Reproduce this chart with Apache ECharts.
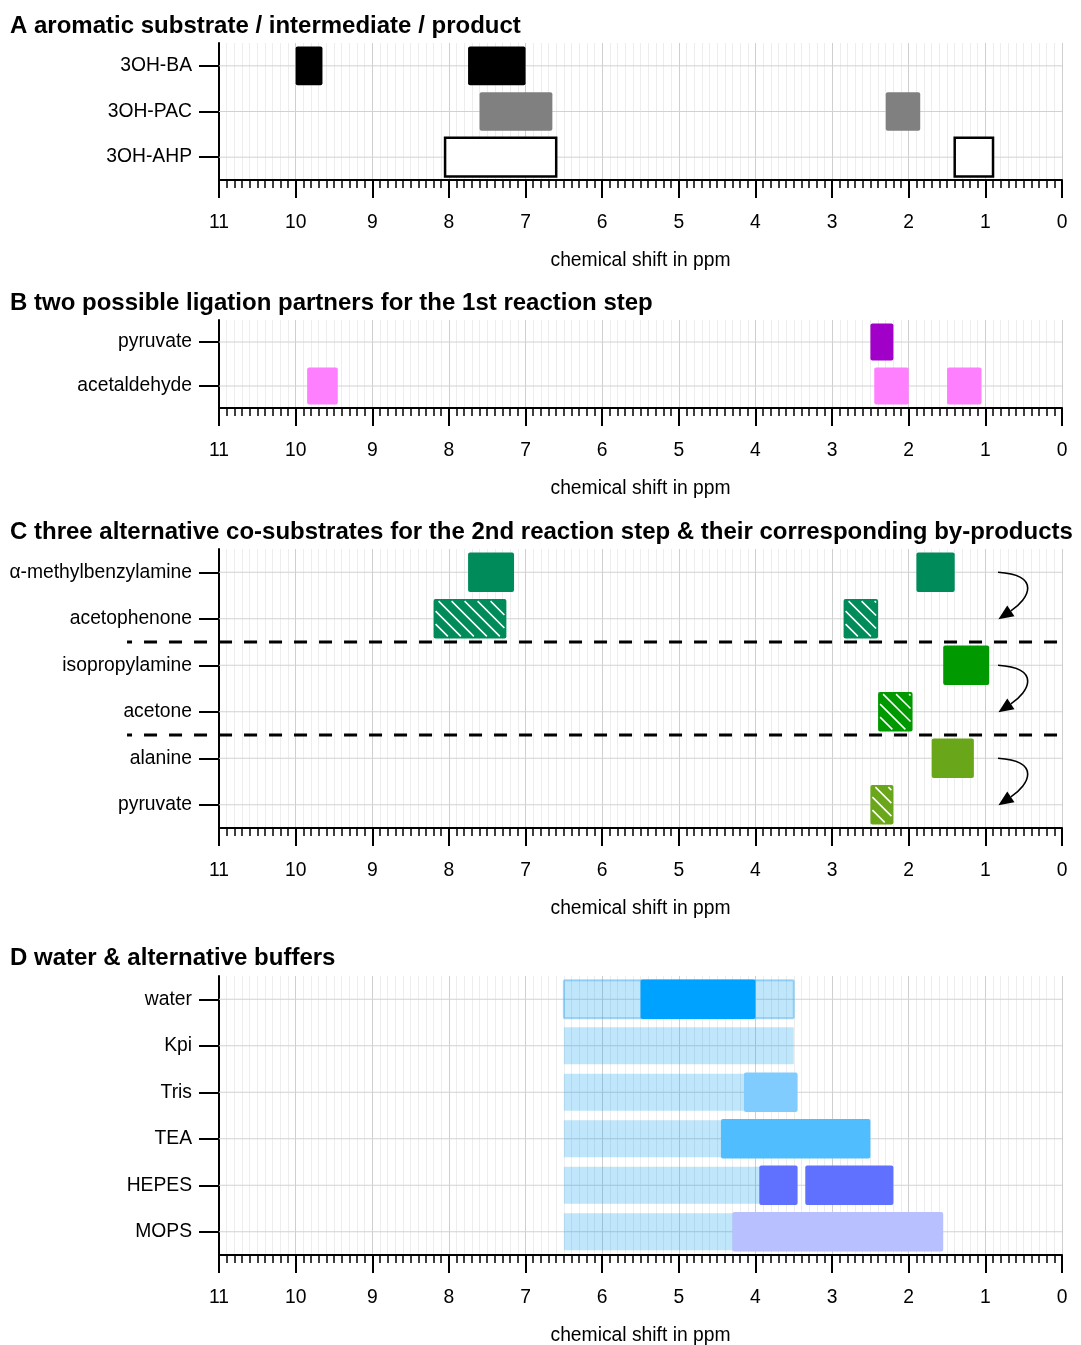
<!DOCTYPE html>
<html>
<head>
<meta charset="utf-8">
<script src="https://cdn.jsdelivr.net/npm/echarts@6/dist/echarts.min.js"></script>
<style>
  html, body { margin: 0; padding: 0; background: #fff; }
  #chart { width: 1081px; height: 1345px; }
</style>
</head>
<body>
<div id="chart"></div>
<script>
// ---- chemical shift range (ppm), drawn from high to low ----
const ppmMin = 0;
const ppmMax = 11;
const axisName = 'chemical shift in ppm';

// ---- A: aromatic substrate / intermediate / product ----
const titleA = 'A aromatic substrate / intermediate / product';
const rowsA = ['3OH-BA', '3OH-PAC', '3OH-AHP'];
const signalsA = [
  ['3OH-BA', 10.0, 9.65], ['3OH-BA', 7.75, 7.0],
  ['3OH-PAC', 7.6, 6.65], ['3OH-PAC', 2.3, 1.85],
  ['3OH-AHP', 8.05, 6.6], ['3OH-AHP', 1.4, 0.9]
];

// ---- B: ligation partners, 1st reaction step ----
const titleB = 'B two possible ligation partners for the 1st reaction step';
const rowsB = ['pyruvate', 'acetaldehyde'];
const signalsB = [
  ['pyruvate', 2.5, 2.2],
  ['acetaldehyde', 9.85, 9.45], ['acetaldehyde', 2.45, 2.0], ['acetaldehyde', 1.5, 1.05]
];

// ---- C: co-substrates, 2nd reaction step, and their by-products ----
const titleC = 'C three alternative co-substrates for the 2nd reaction step & their corresponding by-products';
const rowsC = ['α-methylbenzylamine', 'acetophenone', 'isopropylamine', 'acetone', 'alanine', 'pyruvate'];
const signalsC = [
  ['α-methylbenzylamine', 7.75, 7.15], ['α-methylbenzylamine', 1.9, 1.4],
  ['acetophenone', 8.2, 7.25], ['acetophenone', 2.85, 2.4],
  ['isopropylamine', 1.55, 0.95],
  ['acetone', 2.4, 1.95],
  ['alanine', 1.7, 1.15],
  ['pyruvate', 2.5, 2.2]
];
// co-substrate -> by-product
const pairsC = [
  ['α-methylbenzylamine', 'acetophenone'],
  ['isopropylamine', 'acetone'],
  ['alanine', 'pyruvate']
];

// ---- D: water & buffers ----
const titleD = 'D water & alternative buffers';
const rowsD = ['water', 'Kpi', 'Tris', 'TEA', 'HEPES', 'MOPS'];
const waterRegion = [6.5, 3.5];
const signalsD = [
  ['water', 5.5, 4.0],
  ['Tris', 4.15, 3.45],
  ['TEA', 4.45, 2.5],
  ['HEPES', 3.95, 3.45], ['HEPES', 3.35, 2.2],
  ['MOPS', 4.3, 1.55]
];

// ---- styles ----
const stylesA = {
  '3OH-BA': { fill: '#000000' },
  '3OH-PAC': { fill: '#808080' },
  '3OH-AHP': { fill: '#ffffff', stroke: '#000000', lineWidth: 2.5, r: 0 }
};
const stylesB = {
  'pyruvate': { fill: '#a000c8' },
  'acetaldehyde': { fill: '#ff80ff' }
};
const stylesC = {
  'α-methylbenzylamine': { fill: '#008c5a' },
  'acetophenone': { fill: '#008c5a', hatch: true },
  'isopropylamine': { fill: '#009900' },
  'acetone': { fill: '#009900', hatch: true },
  'alanine': { fill: '#6aa61a' },
  'pyruvate': { fill: '#6aa61a', hatch: true }
};
const stylesD = {
  'water': { fill: '#00a2ff' },
  'Tris': { fill: '#80ccff' },
  'TEA': { fill: '#50bdff' },
  'HEPES': { fill: '#6070ff' },
  'MOPS': { fill: '#b8c0ff' }
};
const regionFill = 'rgba(0,155,235,0.25)';
const regionStroke = 'rgba(60,170,240,0.45)';

const FONT = '"Liberation Sans", Arial, Helvetica, sans-serif';
const LABEL_SIZE = 19.3;
const BAR_RATIO = 0.845;

// ---- panel layout ----
const panels = [
  { title: titleA, rows: rowsA, signals: signalsA, styles: stylesA, titleTop: 14, top: 43, height: 137 },
  { title: titleB, rows: rowsB, signals: signalsB, styles: stylesB, titleTop: 291, top: 320, height: 88 },
  { title: titleC, rows: rowsC, signals: signalsC, styles: stylesC, titleTop: 520, top: 549, height: 279 },
  { title: titleD, rows: rowsD, signals: signalsD, styles: stylesD, titleTop: 946, top: 976, height: 279 }
];

// white diagonal hatching inside a rectangle
function hatchLines(x, y, w, h) {
  const pad = 2, step = 13;
  const x0 = x + pad, x1 = x + w - pad, y0 = y + pad, y1 = y + h - pad;
  const out = [];
  const base = x0 - y0 + 3;
  const cMin = x0 - y1, cMax = x1 - y0;
  const k = Math.ceil((cMin - base) / step);
  for (let c = base + k * step; c < cMax; c += step) {
    const ya = Math.max(y0, x0 - c);
    const yb = Math.min(y1, x1 - c);
    if (yb - ya < 1) continue;
    out.push({
      type: 'line',
      shape: { x1: ya + c, y1: ya, x2: yb + c, y2: yb },
      style: { stroke: '#ffffff', lineWidth: 1.5 }
    });
  }
  return out;
}

function signalRenderer(rows, styles, ratio) {
  return function (params, api) {
    const row = api.value(2);
    const p0 = api.coord([api.value(0), row]);
    const p1 = api.coord([api.value(1), row]);
    const h = api.size([0, 1])[1] * ratio;
    const x = Math.min(p0[0], p1[0]);
    const w = Math.abs(p1[0] - p0[0]);
    const y = p0[1] - h / 2;
    const st = styles[rows[row]];
    const children = [{
      type: 'rect',
      shape: { x: x, y: y, width: w, height: h, r: st.r !== undefined ? st.r : 2 },
      style: { fill: st.fill, stroke: st.stroke || null, lineWidth: st.lineWidth || 0 }
    }];
    if (st.hatch) children.push.apply(children, hatchLines(x, y, w, h));
    return { type: 'group', children: children };
  };
}

function rowLineRenderer(params, api) {
  const row = api.value(1);
  const a = api.coord([ppmMax, row]);
  const b = api.coord([ppmMin, row]);
  return {
    type: 'line',
    shape: { x1: a[0], y1: a[1], x2: b[0], y2: b[1] },
    style: { stroke: '#d2d2d2', lineWidth: 1 }
  };
}

const xAxes = [], yAxes = [], grids = [], titles = [], series = [];

panels.forEach(function (p, i) {
  grids.push({ left: 219, width: 843, top: p.top, height: p.height, containLabel: false, outerBoundsMode: 'none' });
  titles.push({
    text: p.title, left: 10, top: p.titleTop, padding: 0,
    textStyle: { fontFamily: FONT, fontSize: 24, fontWeight: 'bold', color: '#000' }
  });
  xAxes.push({
    gridIndex: i, type: 'value', min: ppmMin, max: ppmMax, interval: 1, inverse: true,
    name: axisName, nameLocation: 'middle', nameGap: 71,
    nameTextStyle: { fontFamily: FONT, fontSize: LABEL_SIZE, color: '#000' },
    axisLine: { show: true, onZero: false, lineStyle: { color: '#000', width: 2 } },
    axisTick: { show: true, inside: false, length: 18, lineStyle: { color: '#000', width: 2 } },
    minorTick: { show: true, splitNumber: 10, length: 8, lineStyle: { color: '#000', width: 1.5 } },
    splitLine: { show: true, lineStyle: { color: '#cfcfcf', width: 1 } },
    minorSplitLine: { show: true, lineStyle: { color: '#ededed', width: 1 } },
    axisLabel: { margin: 33, fontFamily: FONT, fontSize: LABEL_SIZE, color: '#000' }
  });
  yAxes.push({
    gridIndex: i, type: 'category', data: p.rows, inverse: true, position: 'left',
    axisLine: { show: true, onZero: false, lineStyle: { color: '#000', width: 2 } },
    axisTick: { show: true, alignWithLabel: true, length: 20, lineStyle: { color: '#000', width: 2 } },
    axisLabel: { margin: 27, fontFamily: FONT, fontSize: LABEL_SIZE, color: '#000' },
    splitLine: { show: false }
  });
  // horizontal row lines
  series.push({
    type: 'custom', xAxisIndex: i, yAxisIndex: i, z: 1, silent: true,
    renderItem: rowLineRenderer,
    data: p.rows.map(function (r, k) { return [ppmMin, k]; })
  });
  // signal boxes
  series.push({
    type: 'custom', xAxisIndex: i, yAxisIndex: i, z: 3, silent: true,
    renderItem: signalRenderer(p.rows, p.styles, BAR_RATIO),
    encode: { x: [0, 1], y: 2 },
    data: p.signals.map(function (s) { return [s[1], s[2], p.rows.indexOf(s[0])]; })
  });
});

// D: water region behind every buffer row
series.push({
  type: 'custom', xAxisIndex: 3, yAxisIndex: 3, z: 2, silent: true,
  encode: { x: [0, 1], y: 2 },
  renderItem: function (params, api) {
    const row = api.value(2);
    const p0 = api.coord([api.value(0), row]);
    const p1 = api.coord([api.value(1), row]);
    const isWater = rowsD[row] === 'water';
    const h = api.size([0, 1])[1] * (isWater ? 0.82 : 0.8);
    return {
      type: 'rect',
      shape: { x: Math.min(p0[0], p1[0]), y: p0[1] - h / 2, width: Math.abs(p1[0] - p0[0]), height: h, r: 1 },
      style: { fill: regionFill, stroke: isWater ? regionStroke : null, lineWidth: isWater ? 2 : 0 }
    };
  },
  data: rowsD.map(function (r, k) { return [waterRegion[0], waterRegion[1], k]; })
});

// C: dashed separators between the pairs
series.push({
  type: 'custom', xAxisIndex: 2, yAxisIndex: 2, z: 5, silent: true,
  renderItem: function (params, api) {
    const lastRow = api.value(0), nextRow = api.value(1);
    const a = api.coord([12.2, lastRow]);
    const b = api.coord([ppmMin, nextRow]);
    const yMid = (a[1] + b[1]) / 2;
    return {
      type: 'line',
      shape: { x1: a[0], y1: yMid, x2: b[0], y2: yMid },
      style: { stroke: '#000', lineWidth: 3, lineDash: [13, 12], lineDashOffset: 8 }
    };
  },
  data: pairsC.slice(0, -1).map(function (pair, k) {
    return [rowsC.indexOf(pair[1]), rowsC.indexOf(pairsC[k + 1][0])];
  })
});

// C: curved arrows from co-substrate to by-product
series.push({
  type: 'custom', xAxisIndex: 2, yAxisIndex: 2, z: 5, silent: true,
  renderItem: function (params, api) {
    const s = api.coord([0.835, api.value(0)]);
    const t = api.coord([0.83, api.value(1)]);
    t[1] += 0.5;
    const dx = -0.832, dy = 0.555;          // arrowhead direction
    const headLen = 15, headHalf = 6.5;
    const b = [t[0] - dx * headLen, t[1] - dy * headLen];
    const c1 = [s[0] + 44, s[1] + 3];
    const c2 = [b[0] + 18, b[1] - 12];
    const nx = -dy, ny = dx;
    return {
      type: 'group',
      children: [
        {
          type: 'bezierCurve',
          shape: { x1: s[0], y1: s[1], cpx1: c1[0], cpy1: c1[1], cpx2: c2[0], cpy2: c2[1], x2: b[0], y2: b[1] },
          style: { stroke: '#000', lineWidth: 1.6, fill: null }
        },
        {
          type: 'polygon',
          shape: { points: [t, [b[0] + nx * headHalf, b[1] + ny * headHalf], [b[0] - nx * headHalf, b[1] - ny * headHalf]] },
          style: { fill: '#000' }
        }
      ]
    };
  },
  data: pairsC.map(function (pair) { return [rowsC.indexOf(pair[0]), rowsC.indexOf(pair[1])]; })
});

const chart = echarts.init(document.getElementById('chart'), null, { renderer: 'canvas' });
chart.setOption({
  backgroundColor: '#ffffff',
  animation: false,
  title: titles,
  grid: grids,
  xAxis: xAxes,
  yAxis: yAxes,
  series: series
});
</script>
</body>
</html>
